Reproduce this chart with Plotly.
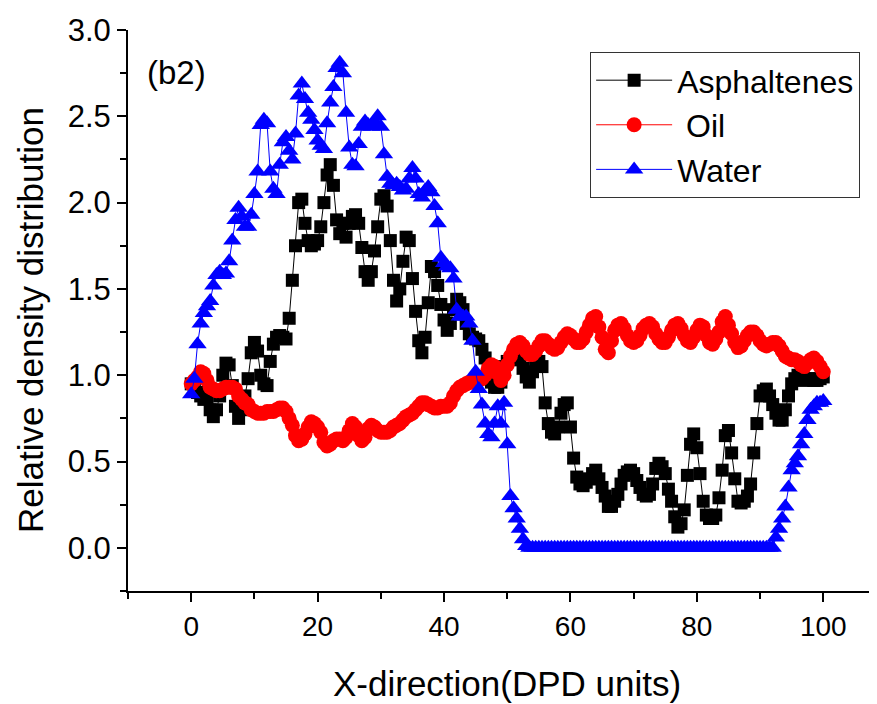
import plotly.graph_objects as go

x_grid = [i * 0.5 for i in range(201)]

asphaltenes = [
    0.95, 0.92, 0.90, 0.88, 0.86, 0.87, 0.80, 0.76, 0.80, 0.88,
    1.00, 1.07, 1.06, 0.94, 0.82, 0.75, 0.80, 0.88, 0.98, 1.13,
    1.19, 1.14, 1.00, 0.95, 0.94, 1.08, 1.18, 1.22, 1.23, 1.22,
    1.21, 1.33, 1.55, 1.75, 2.00, 2.02, 1.88, 1.78, 1.75, 1.76,
    1.78, 1.86, 2.00, 2.16, 2.22, 2.10, 1.90, 1.82, 1.88, 1.80,
    1.88, 1.92, 1.93, 1.88, 1.74, 1.60, 1.55, 1.60, 1.72, 1.86,
    2.02, 2.04, 1.98, 1.78, 1.55, 1.43, 1.50, 1.66, 1.80, 1.78,
    1.56, 1.37, 1.20, 1.13, 1.22, 1.42, 1.63, 1.60, 1.52, 1.41,
    1.32, 1.26, 1.30, 1.38, 1.44, 1.42, 1.38, 1.30, 1.24, 1.22,
    1.21, 1.20, 1.15, 1.10, 1.05, 0.96, 0.93, 0.93, 0.96, 1.05,
    1.08, 1.09, 1.10, 1.11, 1.09, 1.04, 0.99, 0.96, 1.02, 1.07,
    1.08, 1.05, 0.84, 0.72, 0.67, 0.66, 0.70, 0.78, 0.83, 0.84,
    0.70, 0.52, 0.41, 0.37, 0.36, 0.38, 0.40, 0.43, 0.45, 0.40,
    0.35, 0.30, 0.24, 0.24, 0.27, 0.31, 0.37, 0.42, 0.44, 0.45,
    0.43, 0.39, 0.35, 0.31, 0.30, 0.31, 0.37, 0.46, 0.49, 0.47,
    0.43, 0.34, 0.27, 0.18, 0.12, 0.14, 0.22, 0.42, 0.60, 0.66,
    0.58, 0.43, 0.27, 0.19, 0.17, 0.17, 0.19, 0.29, 0.45, 0.65,
    0.68, 0.55, 0.40, 0.27, 0.26, 0.27, 0.30, 0.37, 0.55, 0.72,
    0.88, 0.91, 0.92, 0.88, 0.83, 0.78, 0.74, 0.74, 0.80, 0.88,
    0.95, 0.98, 1.00, 0.99, 0.97, 0.98, 0.98, 0.97, 0.97, 0.98,
    0.99,
]

oil = [
    0.95, 0.97, 0.99, 1.02, 1.01, 0.97, 0.93, 0.92, 0.91, 0.91,
    0.92, 0.93, 0.93, 0.93, 0.92, 0.88, 0.86, 0.84, 0.83, 0.80,
    0.79, 0.78, 0.78, 0.78, 0.79, 0.79, 0.79, 0.80, 0.81, 0.81,
    0.79, 0.75, 0.71, 0.65, 0.62, 0.63, 0.66, 0.70, 0.73, 0.72,
    0.70, 0.67, 0.61, 0.59, 0.60, 0.62, 0.63, 0.63, 0.62, 0.64,
    0.68, 0.72, 0.70, 0.65, 0.62, 0.64, 0.69, 0.71, 0.70, 0.68,
    0.67, 0.67, 0.67, 0.68, 0.70, 0.71, 0.72, 0.74, 0.76, 0.77,
    0.78, 0.80, 0.82, 0.84, 0.84, 0.83, 0.82, 0.81, 0.81, 0.82,
    0.82, 0.82, 0.84, 0.88, 0.91, 0.93, 0.94, 0.95, 0.96, 0.96,
    0.97, 0.97, 0.98, 1.00, 1.04, 1.06, 1.05, 1.01, 0.97, 1.00,
    1.06, 1.11, 1.15, 1.18, 1.19, 1.17, 1.14, 1.12, 1.12, 1.14,
    1.17, 1.20, 1.20, 1.18, 1.16, 1.15, 1.16, 1.19, 1.22, 1.24,
    1.23, 1.21, 1.19, 1.19, 1.21, 1.25, 1.29, 1.33, 1.34, 1.28,
    1.22, 1.15, 1.13, 1.20, 1.26, 1.29, 1.30, 1.27, 1.23, 1.20,
    1.19, 1.20, 1.23, 1.27, 1.29, 1.30, 1.28, 1.24, 1.21, 1.19,
    1.19, 1.22, 1.26, 1.29, 1.30, 1.27, 1.23, 1.20, 1.19, 1.22,
    1.26, 1.29, 1.28, 1.23, 1.19, 1.18, 1.21, 1.25, 1.31, 1.34,
    1.29, 1.24, 1.19, 1.16, 1.17, 1.20, 1.23, 1.25, 1.25, 1.23,
    1.20, 1.18, 1.17, 1.18, 1.19, 1.19, 1.17, 1.14, 1.11, 1.10,
    1.09, 1.09, 1.08, 1.06, 1.05, 1.07, 1.09, 1.10, 1.08, 1.05,
    1.02,
]

water = [
    0.89, 0.98, 1.18, 1.30, 1.36, 1.40, 1.43, 1.52, 1.58, 1.60,
    1.58, 1.59, 1.66, 1.78, 1.90, 1.97, 1.92, 1.86, 1.86, 1.93,
    2.05, 2.18, 2.45, 2.48, 2.46, 2.18, 2.08, 2.05, 2.22, 2.35,
    2.38, 2.30, 2.25, 2.40, 2.62, 2.69, 2.60, 2.52, 2.48, 2.42,
    2.36, 2.33, 2.31, 2.46, 2.58, 2.67, 2.78, 2.81, 2.75, 2.52,
    2.32, 2.22, 2.21, 2.34, 2.44, 2.47, 2.45, 2.44, 2.47, 2.50,
    2.44, 2.28, 2.15, 2.11, 2.10, 2.11, 2.09, 2.07, 2.08, 2.14,
    2.20, 2.14, 2.05, 2.03, 2.07, 2.09, 2.06, 1.98, 1.88, 1.68,
    1.65, 1.63, 1.62, 1.56, 1.38, 1.34, 1.34, 1.34, 1.30, 1.20,
    1.02, 0.92, 0.83, 0.72, 0.66, 0.64, 0.72, 0.82, 0.72, 0.84,
    0.60, 0.30, 0.23, 0.17, 0.11, 0.05, 0.01, 0.00, 0.00, 0.00,
    0.00, 0.00, 0.00, 0.00, 0.00, 0.00, 0.00, 0.00, 0.00, 0.00,
    0.00, 0.00, 0.00, 0.00, 0.00, 0.00, 0.00, 0.00, 0.00, 0.00,
    0.00, 0.00, 0.00, 0.00, 0.00, 0.00, 0.00, 0.00, 0.00, 0.00,
    0.00, 0.00, 0.00, 0.00, 0.00, 0.00, 0.00, 0.00, 0.00, 0.00,
    0.00, 0.00, 0.00, 0.00, 0.00, 0.00, 0.00, 0.00, 0.00, 0.00,
    0.00, 0.00, 0.00, 0.00, 0.00, 0.00, 0.00, 0.00, 0.00, 0.00,
    0.00, 0.00, 0.00, 0.00, 0.00, 0.00, 0.00, 0.00, 0.00, 0.00,
    0.00, 0.00, 0.00, 0.00, 0.00, 0.06, 0.11, 0.17, 0.24, 0.35,
    0.45, 0.49, 0.53, 0.60, 0.66, 0.74, 0.80, 0.82, 0.84, 0.84,
    0.85,
]

x_ticks = [0, 20, 40, 60, 80, 100]
y_ticks = [0.0, 0.5, 1.0, 1.5, 2.0, 2.5, 3.0]
y_tick_text = ["0.0", "0.5", "1.0", "1.5", "2.0", "2.5", "3.0"]

FONT = "Liberation Sans, Arial, sans-serif"

fig = go.Figure()
fig.add_trace(go.Scatter(
    x=x_grid, y=asphaltenes, name="Asphaltenes", mode="lines+markers",
    line=dict(color="black", width=1),
    marker=dict(symbol="square", size=13, color="black"),
))
fig.add_trace(go.Scatter(
    x=x_grid, y=oil, name=" Oil", mode="lines+markers",
    line=dict(color="red", width=1),
    marker=dict(symbol="circle", size=15, color="red"),
))
fig.add_trace(go.Scatter(
    x=x_grid, y=water, name="Water", mode="lines+markers",
    line=dict(color="blue", width=1),
    marker=dict(symbol="triangle-up", size=16, color="blue"),
))

fig.update_layout(
    width=869, height=696,
    margin=dict(l=120, r=0, t=22, b=113),
    paper_bgcolor="white", plot_bgcolor="white",
    font=dict(family=FONT, color="black", size=30),
    showlegend=True,
    legend=dict(
        x=0.617, y=0.961, xanchor="left", yanchor="top",
        bordercolor="#333333", borderwidth=1, bgcolor="white",
        font=dict(family=FONT, size=32),
        tracegroupgap=0, itemwidth=76,
    ),
    xaxis=dict(
        range=[-10, 108.5], tickvals=x_ticks, ticktext=[str(v) for v in x_ticks],
        showgrid=False, zeroline=False, showline=True, linecolor="black", linewidth=2,
        ticks="outside", ticklen=9, tickwidth=1.5, tickcolor="black",
        minor=dict(tickvals=[-10, 10, 30, 50, 70, 90], ticks="outside", ticklen=6,
                   tickwidth=1.5, tickcolor="black"),
        tickfont=dict(family=FONT, size=28),
        automargin=False,
    ),
    xaxis2=dict(
        overlaying="x", side="top", anchor="y", range=[-10, 108.5],
        tickvals=[-10, 0, 10, 20, 30, 40, 50, 60, 70, 80, 90, 100],
        showticklabels=False, showgrid=False, zeroline=False,
        showline=True, linecolor="black", linewidth=2,
        ticks="inside", ticklen=5, tickwidth=1.5, tickcolor="black",
        automargin=False,
    ),
    yaxis=dict(
        range=[-0.25, 3.0], tickvals=y_ticks, ticktext=y_tick_text,
        showgrid=False, zeroline=False, showline=True, linecolor="black", linewidth=2,
        ticks="outside", ticklen=9, tickwidth=1.5, tickcolor="black",
        minor=dict(tickvals=[-0.25, 0.25, 0.75, 1.25, 1.75, 2.25, 2.75], ticks="outside",
                   ticklen=6, tickwidth=1.5, tickcolor="black"),
        tickfont=dict(family=FONT, size=31),
        automargin=False,
    ),
    annotations=[
        dict(text="(b2)", x=0.0227, y=0.925, xref="paper", yref="paper",
             xanchor="left", yanchor="middle", showarrow=False,
             font=dict(family=FONT, size=33, color="black")),
        dict(text="X-direction(DPD units)", x=0.506, y=-0.164, xref="paper", yref="paper",
             xanchor="center", yanchor="middle", showarrow=False,
             font=dict(family=FONT, size=35, color="black")),
        dict(text="Relative density distribution", x=-0.1308, y=0.483, xref="paper", yref="paper",
             xanchor="center", yanchor="middle", showarrow=False, textangle=-90,
             font=dict(family=FONT, size=35, color="black")),
    ],
)

fig.write_html("out.html")
